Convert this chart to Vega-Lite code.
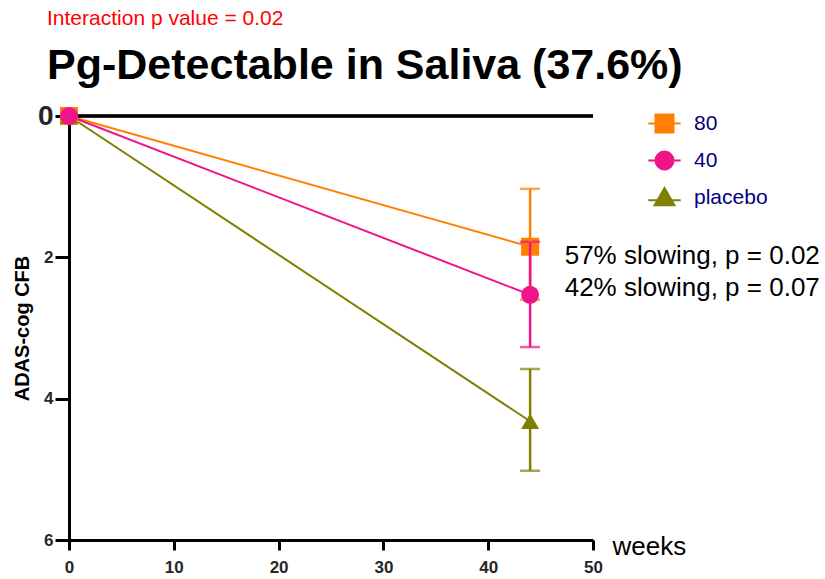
{
  "$schema": "https://vega.github.io/schema/vega-lite/v6.json",
  "width": 524,
  "height": 424,
  "autosize": {"type": "none"},
  "padding": {"left": 69, "top": 116, "right": 232, "bottom": 39},
  "title": {
    "text": "Interaction p value = 0.02",
    "subtitle": "Pg-Detectable in Saliva (37.6%)",
    "anchor": "start",
    "frame": "group",
    "dx": -22,
    "color": "#FF0000",
    "font": "Liberation Sans",
    "fontSize": 21,
    "fontWeight": "normal",
    "subtitleFont": "Liberation Sans",
    "subtitleColor": "#000000",
    "subtitleFontSize": 43,
    "subtitleFontWeight": "bold",
    "subtitlePadding": 16,
    "offset": 14
  },
  "config": {"font": "Liberation Sans", "view": {"stroke": null}},
  "datasets": {
    "groups": [
      {"group": "placebo", "week": 0, "mean": 0, "lo": null, "hi": null},
      {"group": "placebo", "week": 44, "mean": 4.32, "lo": 3.58, "hi": 5.02},
      {"group": "80", "week": 0, "mean": 0, "lo": null, "hi": null},
      {"group": "80", "week": 44, "mean": 1.85, "lo": 1.03, "hi": 2.6},
      {"group": "40", "week": 0, "mean": 0, "lo": null, "hi": null},
      {"group": "40", "week": 44, "mean": 2.53, "lo": 1.78, "hi": 3.27}
    ],
    "notes": [
      {"x": 47.3, "y": 1.98, "label": "57% slowing, p = 0.02"},
      {"x": 47.3, "y": 2.43, "label": "42% slowing, p = 0.07"}
    ]
  },
  "layer": [
    {
      "data": {"name": "groups"},
      "mark": {"type": "line", "strokeWidth": 2},
      "encoding": {
        "x": {
          "field": "week", "type": "quantitative", "title": "weeks",
          "scale": {"domain": [0, 50], "nice": false},
          "axis": {
            "values": [0, 10, 20, 30, 40, 50], "grid": false, "format": "d", "labelFlush": false,
            "domainColor": "#000000", "domainWidth": 3,
            "ticks": true, "tickColor": "#000000", "tickWidth": 3, "tickSize": 10,
            "labelFontSize": 17, "labelFontWeight": "bold", "labelColor": "#262626", "labelPadding": 9,
            "titleFontSize": 26, "titleFontWeight": "normal", "titleColor": "#000000",
            "titleAlign": "left", "titleBaseline": "middle", "titleX": 543, "titleY": 6
          }
        },
        "y": {
          "field": "mean", "type": "quantitative", "title": "ADAS-cog CFB",
          "scale": {"domain": [0, 6], "reverse": true, "nice": false, "zero": false},
          "axis": {
            "values": [0, 2, 4, 6], "grid": false, "format": "d", "labelFlush": false,
            "domainColor": "#000000", "domainWidth": 3,
            "ticks": true, "tickColor": "#000000", "tickWidth": 3, "tickSize": 14,
            "labelFontSize": {"condition": {"test": "datum.value === 0", "value": 28}, "value": 17},
            "labelPadding": 2,
            "labelFontWeight": "bold", "labelColor": "#262626",
            "titleFontSize": 20, "titleFontWeight": "bold", "titleColor": "#000000", "titlePadding": 5
          }
        },
        "color": {
          "field": "group", "type": "nominal",
          "scale": {"domain": ["80", "40", "placebo"], "range": ["#FF8000", "#F0148A", "#808000"]},
          "legend": {
            "title": null, "orient": "none", "legendX": 585, "legendY": -3,
            "padding": 0, "symbolSize": 324, "rowPadding": 10, "labelOffset": 19,
            "labelFontSize": 21, "labelColor": "#000080",
            "encode": {
              "symbols": {
                "update": {
                  "shape": {"signal": "datum.value === '80' ? 'M-1,-1H1V1H-1Z M-1.8,0H1.8' : datum.value === '40' ? 'M-1,0A1,1 0 1,0 1,0A1,1 0 1,0 -1,0Z M-1.8,0H1.8' : 'M0,-1.05L1.1,0.85H-1.1Z M-1.8,0.3H1.8'"},
                  "fill": {"signal": "scale('color', datum.value)"},
                  "stroke": {"signal": "scale('color', datum.value)"},
                  "strokeWidth": {"value": 2},
                  "size": {"value": 324},
                  "opacity": {"value": 1}
                }
              }
            }
          }
        }
      }
    },
    {
      "data": {"name": "groups"},
      "mark": {"type": "rule", "strokeWidth": 2.5, "color": "#000000"},
      "encoding": {"y": {"datum": 0, "type": "quantitative", "title": "ADAS-cog CFB"}}
    },
    {
      "data": {"name": "groups"},
      "transform": [{"filter": "datum.group === '80'"}],
      "mark": {"type": "point", "shape": "square", "filled": true, "opacity": 1, "size": 324},
      "encoding": {
        "x": {"field": "week", "type": "quantitative", "title": "weeks"},
        "y": {"field": "mean", "type": "quantitative", "title": "ADAS-cog CFB"},
        "color": {"field": "group", "type": "nominal"}
      }
    },
    {
      "data": {"name": "groups"},
      "transform": [{"filter": "datum.lo != null"}],
      "mark": {"type": "errorbar", "thickness": 2.5, "ticks": {"size": 20, "thickness": 2.5}},
      "encoding": {
        "x": {"field": "week", "type": "quantitative", "title": "weeks"},
        "y": {"field": "lo", "type": "quantitative", "title": "ADAS-cog CFB"},
        "y2": {"field": "hi"},
        "color": {"field": "group", "type": "nominal"}
      }
    },
    {
      "data": {"name": "groups"},
      "transform": [{"filter": "datum.group === 'placebo'"}],
      "mark": {"type": "point", "shape": "triangle-up", "filled": true, "opacity": 1, "size": 324},
      "encoding": {
        "x": {"field": "week", "type": "quantitative", "title": "weeks"},
        "y": {"field": "mean", "type": "quantitative", "title": "ADAS-cog CFB"},
        "color": {"field": "group", "type": "nominal"}
      }
    },
    {
      "data": {"name": "groups"},
      "transform": [{"filter": "datum.group === '40'"}],
      "mark": {"type": "point", "shape": "circle", "filled": true, "opacity": 1, "size": 324},
      "encoding": {
        "x": {"field": "week", "type": "quantitative", "title": "weeks"},
        "y": {"field": "mean", "type": "quantitative", "title": "ADAS-cog CFB"},
        "color": {"field": "group", "type": "nominal"}
      }
    },
    {
      "data": {"name": "notes"},
      "mark": {"type": "text", "align": "left", "baseline": "middle", "fontSize": 26, "color": "#000000"},
      "encoding": {
        "x": {"field": "x", "type": "quantitative", "title": "weeks"},
        "y": {"field": "y", "type": "quantitative", "title": "ADAS-cog CFB"},
        "text": {"field": "label"}
      }
    }
  ]
}
